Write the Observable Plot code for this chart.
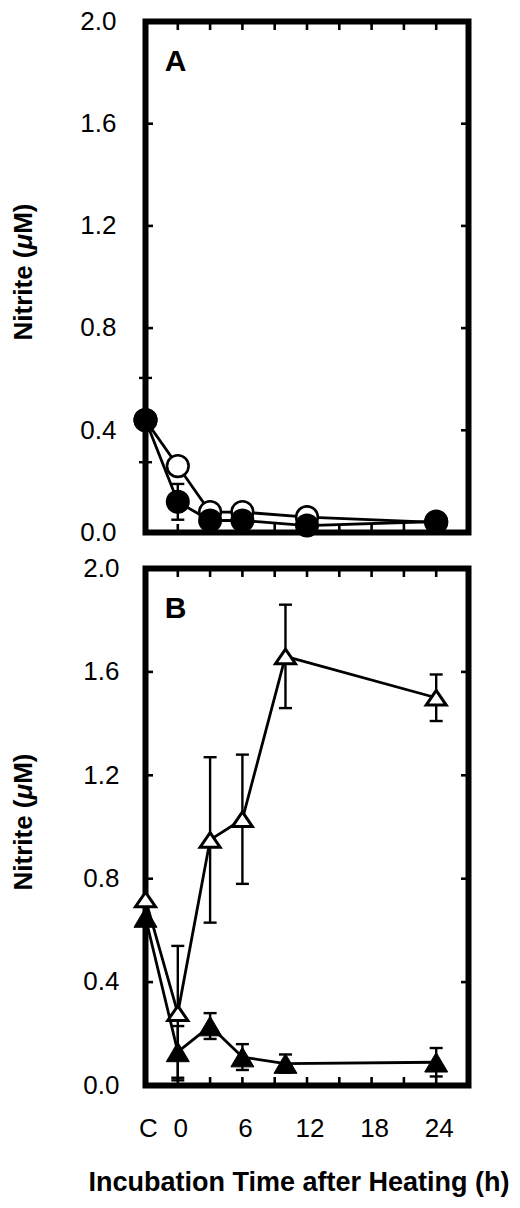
<!DOCTYPE html>
<html><head><meta charset="utf-8">
<script src="https://cdn.jsdelivr.net/npm/d3@7"></script>
<script src="https://cdn.jsdelivr.net/npm/@observablehq/plot@0.6"></script>
<style>
html,body{margin:0;padding:0;background:#fff;}
#chart{width:520px;}
#chart svg{display:block;}
</style></head><body><div id="chart"></div>
<script>
// ---------- data ----------
// Panel A (time in h; C = control plotted at -3)
const timesA = [-3, 0, 3, 6, 12, 24];
const openCircle = [0.44, 0.26, 0.08, 0.08, 0.06, 0.04];
const openCircleErr = [0, 0, 0, 0, 0, 0];
const filledCircle = [0.44, 0.12, 0.047, 0.047, 0.027, 0.043];
const filledCircleErr = [0.165, 0.07, 0, 0, 0, 0];
// Panel B
const timesB = [-3, 0, 3, 6, 10, 24];
const openTri = [0.72, 0.28, 0.95, 1.03, 1.66, 1.50];
const openTriErr = [0, 0.26, 0.32, 0.25, 0.20, 0.09];
const filledTri = [0.65, 0.13, 0.23, 0.11, 0.085, 0.09];
const filledTriErr = [0, 0.10, 0.05, 0.05, 0.035, 0.055];

const yTicks = [0, 0.4, 0.8, 1.2, 1.6, 2.0];
const yInnerTicks = [0.4, 0.8, 1.2, 1.6];
const xFrameTicks = [0, 3, 6, 9, 12, 15, 18, 21, 24];
const xLabelTicks = [-3, 0, 6, 12, 18, 24];
const xLabelText = ["C", "0", "6", "12", "18", "24"];
const xDomain = [-3, 27];
const yDomain = [0, 2];
const panelLabels = ["A", "B"];
const yTitle = "Nitrite (μM)";
const xTitle = "Incubation Time after Heating (h)";

// ---------- symbols ----------
const capSymbol = {draw(ctx){ ctx.moveTo(-6.5, 0); ctx.lineTo(6.5, 0); }};
const openTriSymbol = {draw(ctx){ ctx.moveTo(0, -7.3); ctx.lineTo(10, 7.3); ctx.lineTo(-10, 7.3); ctx.closePath(); }};
const filledTriSymbol = {draw(ctx){ ctx.moveTo(0, -9.8); ctx.lineTo(11.5, 9.8); ctx.lineTo(-11.5, 9.8); ctx.closePath(); }};

function rows(xs, ys, es) { return xs.map((x, i) => ({x, y: ys[i], e: es[i]})); }

function panel({height, marginTop, marginBottom, label, series, tickPadY, showX}) {
  const marks = [Plot.frame({strokeWidth: 6})];
  // inner ticks
  marks.push(
    Plot.axisX({ticks: xFrameTicks, anchor: "top", tickSize: 8, insetTop: 8, tickFormat: () => "", strokeWidth: 2.6, label: null}),
    Plot.axisX({ticks: xFrameTicks, anchor: "bottom", tickSize: 8, insetBottom: 8, tickFormat: () => "", strokeWidth: 2.6, label: null}),
    Plot.axisY({ticks: yInnerTicks, anchor: "left", tickSize: 8, insetLeft: 8, tickFormat: () => "", strokeWidth: 2.6, label: null}),
    Plot.axisY({ticks: yInnerTicks, anchor: "right", tickSize: 8, insetRight: 8, tickFormat: () => "", strokeWidth: 2.6, label: null}),
    Plot.axisY({ticks: yTicks, anchor: "left", tickSize: 0, tickPadding: tickPadY, tickFormat: d3.format(".1f"), fontSize: 26, label: null})
  );
  if (showX) {
    marks.push(Plot.axisX({ticks: xLabelTicks, anchor: "bottom", tickSize: 0, tickPadding: 33, dx: 3,
      tickFormat: d => xLabelText[xLabelTicks.indexOf(d)], fontSize: 26, label: null}));
    marks.push(Plot.text([xTitle], {text: d => d, frameAnchor: "bottom", dy: 97, dx: -8, fontSize: 27, fontWeight: "bold", lineAnchor: "middle"}));
  }
  // error bars
  for (const s of series) {
    const r = s.data.filter(d => d.e > 0);
    marks.push(Plot.ruleX(r, {x: "x", y1: d => d.y - d.e, y2: d => d.y + d.e, strokeWidth: 2.4}));
    marks.push(Plot.dot(r, {x: "x", y: d => d.y + d.e, symbol: capSymbol, stroke: "black", fill: "none", strokeWidth: 2.4}));
    marks.push(Plot.dot(r, {x: "x", y: d => d.y - d.e, symbol: capSymbol, stroke: "black", fill: "none", strokeWidth: 2.4}));
  }
  // lines
  for (const s of series) marks.push(Plot.line(s.data, {x: "x", y: "y", stroke: "black", strokeWidth: 2.8}));
  // markers
  for (const s of series) marks.push(Plot.dot(s.data, {x: "x", y: "y", ...s.marker}));
  // labels
  marks.push(Plot.text([label], {text: d => d, frameAnchor: "top-left", dx: 30, dy: 40, fontSize: 30, fontWeight: "bold", textAnchor: "middle", lineAnchor: "middle"}));
  marks.push(Plot.text([yTitle], {text: d => d, frameAnchor: "left", rotate: -90, dx: -122, dy: -5, fontSize: 26, fontWeight: "bold", textAnchor: "middle", lineAnchor: "middle", className: "ytitle"}));

  const svg = Plot.plot({
    width: 520, height, marginTop, marginBottom, marginLeft: 145, marginRight: 52,
    x: {domain: xDomain, axis: null, label: null},
    y: {domain: yDomain, axis: null, label: null},
    style: {fontFamily: "'Liberation Sans', Arial, sans-serif", background: "white", color: "black"},
    marks
  });
  svg.querySelectorAll(".ytitle text").forEach(t => {
    const s = t.textContent, i = s.indexOf("μ");
    if (i < 0) return;
    const ns = "http://www.w3.org/2000/svg";
    t.textContent = "";
    const a = document.createElementNS(ns, "tspan"); a.textContent = s.slice(0, i);
    const m = document.createElementNS(ns, "tspan"); m.textContent = "μ"; m.setAttribute("font-style", "italic");
    const b = document.createElementNS(ns, "tspan"); b.textContent = s.slice(i + 1);
    t.append(a, m, b);
  });
  return svg;
}

const openCircleMarker = {r: 10.8, fill: "white", stroke: "black", strokeWidth: 2.6};
const filledCircleMarker = {r: 12, fill: "black", stroke: "none"};
const openTriMarker = {symbol: openTriSymbol, fill: "white", stroke: "black", strokeWidth: 3};
const filledTriMarker = {symbol: filledTriSymbol, fill: "black", stroke: "black", strokeWidth: 1};

const chart = document.getElementById("chart");
chart.append(panel({
  height: 552, marginTop: 21, marginBottom: 20, label: panelLabels[0], tickPadY: 29, showX: false,
  series: [
    {data: rows(timesA, openCircle, openCircleErr), marker: openCircleMarker},
    {data: rows(timesA, filledCircle, filledCircleErr), marker: filledCircleMarker}
  ]
}));
chart.append(panel({
  height: 656, marginTop: 16, marginBottom: 123, label: panelLabels[1], tickPadY: 26, showX: true,
  series: [
    {data: rows(timesB, openTri, openTriErr), marker: openTriMarker},
    {data: rows(timesB, filledTri, filledTriErr), marker: filledTriMarker}
  ]
}));
</script>
</body></html>
